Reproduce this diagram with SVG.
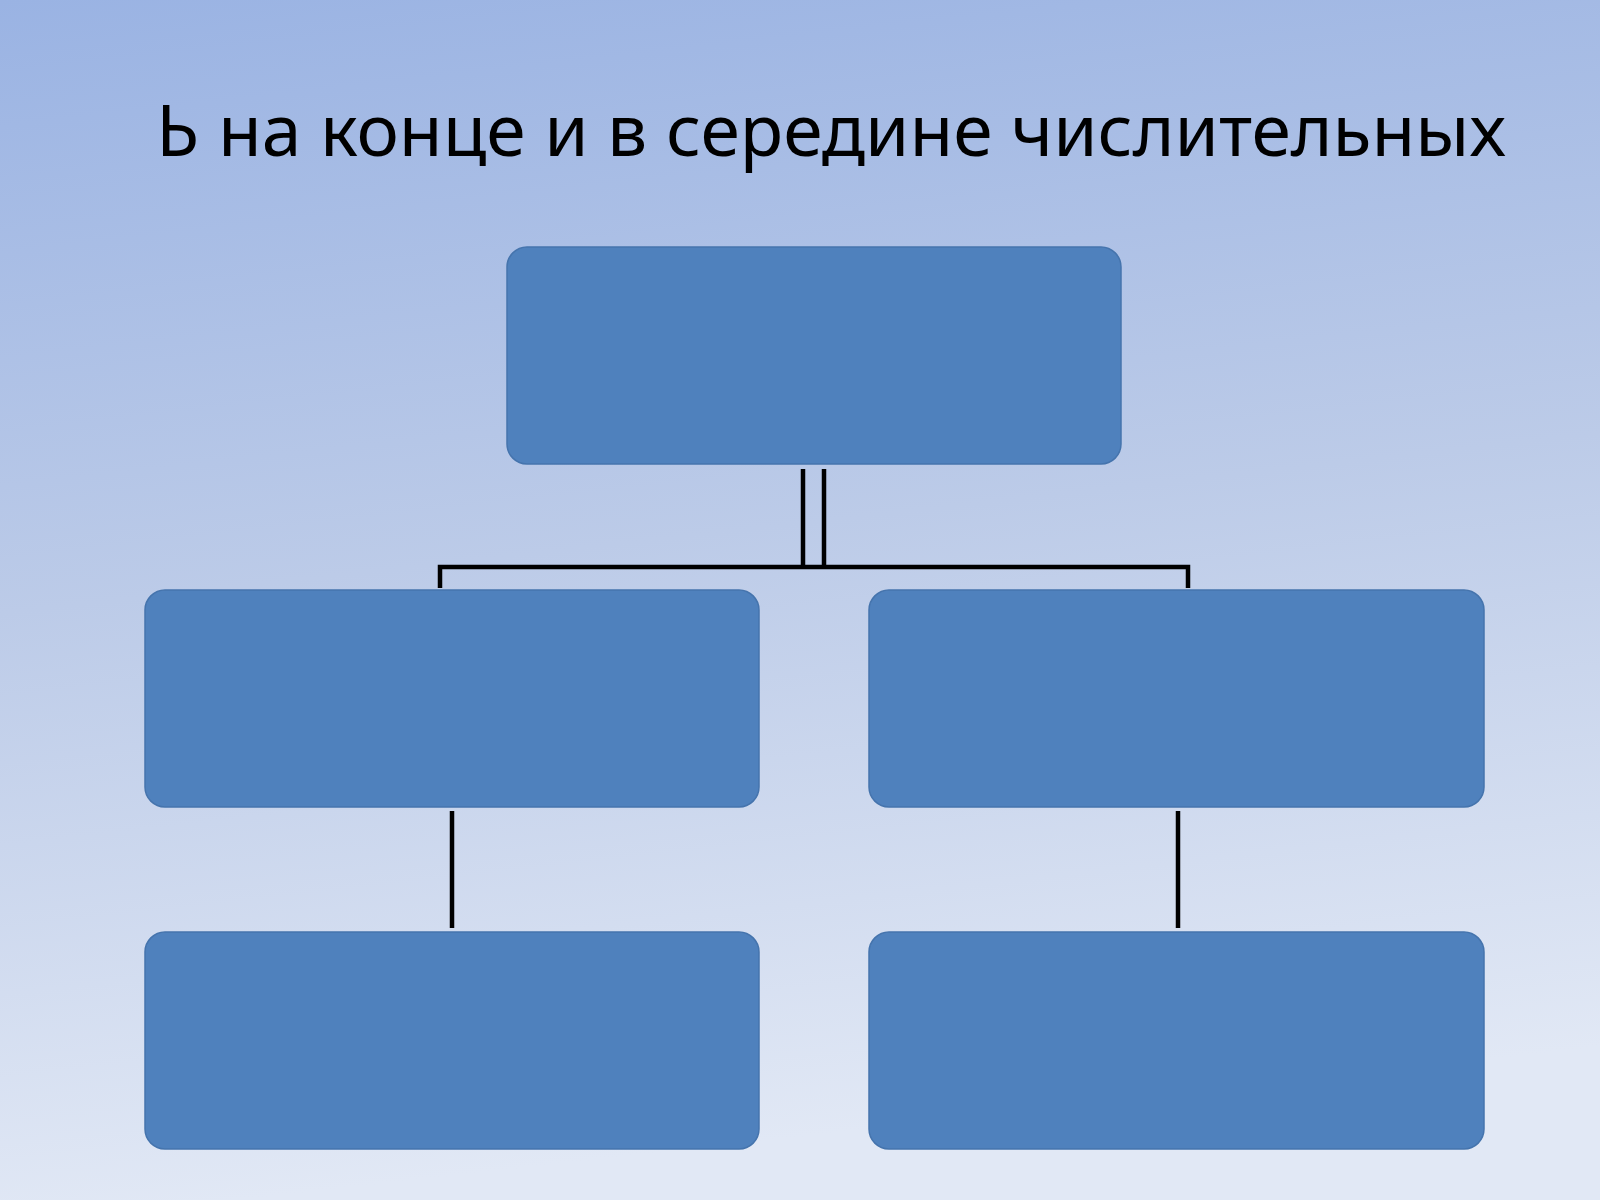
<svg xmlns="http://www.w3.org/2000/svg" width="1600" height="1200" viewBox="0 0 1600 1200">
  <defs>
    <linearGradient id="bg" x1="0" y1="0" x2="0.15" y2="1">
      <stop offset="0" stop-color="#9ab3e3"/>
      <stop offset="0.5" stop-color="#bccbe8"/>
      <stop offset="1" stop-color="#e1e8f5"/>
    </linearGradient>
    <style>
      .box { fill: #4f81bd; stroke: #4574ad; stroke-width: 1.5; }
      .conn { fill: none; stroke: #000000; stroke-width: 4.5; }
      .title { font-family: "Noto Sans", "Open Sans", "Liberation Sans", sans-serif; font-size: 72px; fill: #000000; }
    </style>
  </defs>
  <rect x="0" y="0" width="1600" height="1200" fill="url(#bg)"/>
  <text class="title" x="156" y="156" textLength="1350" lengthAdjust="spacingAndGlyphs">Ь на конце и в середине числительных</text>
  <g id="connectors">
    <path class="conn" d="M803 469 V567"/>
    <path class="conn" d="M824 469 V567"/>
    <path class="conn" d="M440 588 V567 H1188 V588"/>
    <path class="conn" d="M452 811 V928"/>
    <path class="conn" d="M1178 811 V928"/>
  </g>
  <g id="node-top"><rect class="box" x="507" y="247" width="614" height="217" rx="20"/></g>
  <g id="node-mid-left"><rect class="box" x="145" y="590" width="614" height="217" rx="20"/></g>
  <g id="node-mid-right"><rect class="box" x="869" y="590" width="615" height="217" rx="20"/></g>
  <g id="node-bottom-left"><rect class="box" x="145" y="932" width="614" height="217" rx="20"/></g>
  <g id="node-bottom-right"><rect class="box" x="869" y="932" width="615" height="217" rx="20"/></g>
</svg>
